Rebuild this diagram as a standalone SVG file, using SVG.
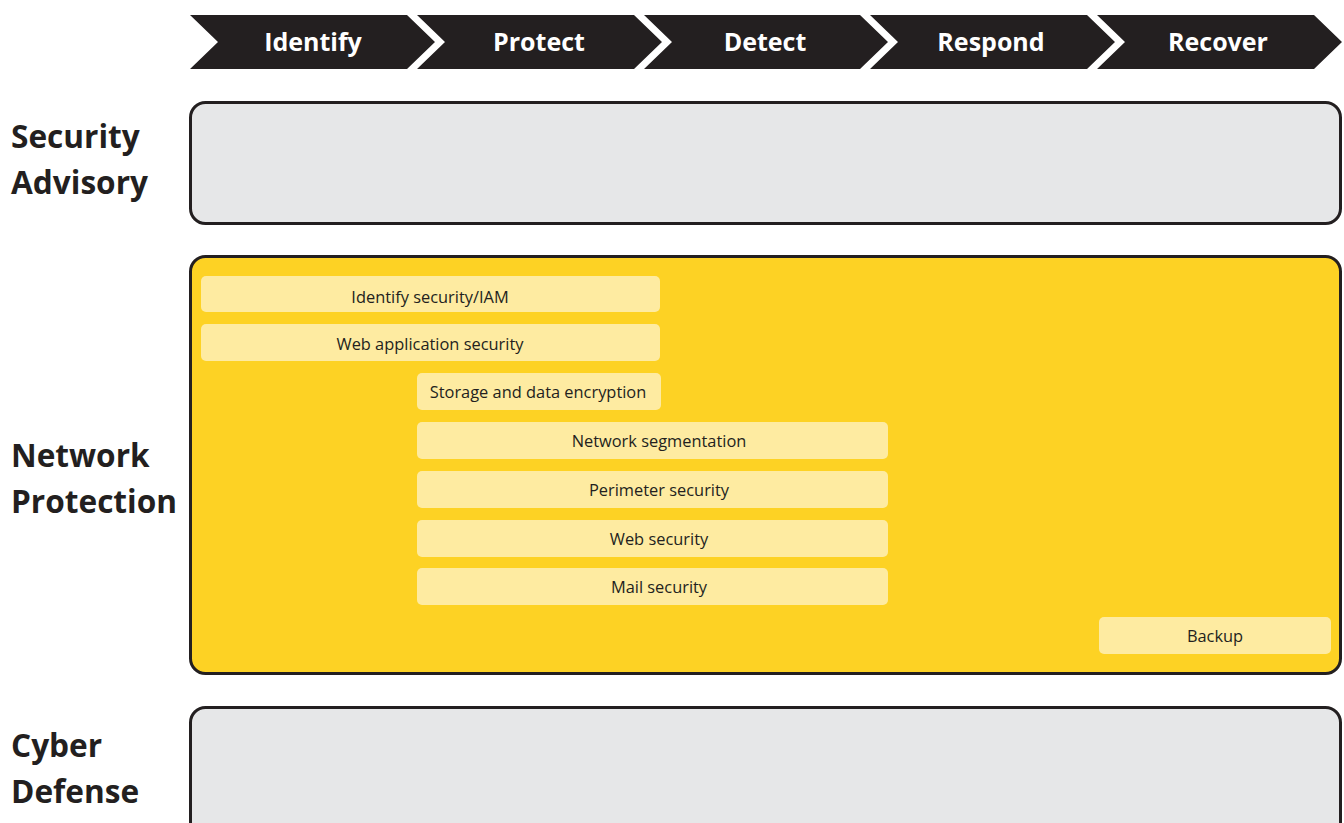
<svg xmlns="http://www.w3.org/2000/svg" width="1344" height="823" viewBox="0 0 1344 823">
<style>
.chev{fill:#231f20}
.ct{font-family:"Open Sans","Liberation Sans",sans-serif;font-weight:700;font-size:25px;fill:#ffffff;text-anchor:middle}
.lbl{font-family:"Open Sans","Liberation Sans",sans-serif;font-weight:700;font-size:31.6px;fill:#231f20}
.panel{stroke:#231f20;stroke-width:3}
.gray{fill:#e6e7e8}
.yel{fill:#fdd224}
.item{fill:#feeba1}
.it{font-family:"Open Sans","Liberation Sans",sans-serif;font-size:16.4px;fill:#231f20;text-anchor:middle}
</style>
<rect width="1344" height="823" fill="#ffffff"/>
<g id="phases">
<g id="phase-identify"><polygon class="chev" points="190,15 407,15 435,42 407,69 190,69 218,42"/><text class="ct" x="313" y="51">Identify</text></g>
<g id="phase-protect"><polygon class="chev" points="417,15 634,15 662,42 634,69 417,69 445,42"/><text class="ct" x="539" y="51">Protect</text></g>
<g id="phase-detect"><polygon class="chev" points="644,15 860,15 888,42 860,69 644,69 672,42"/><text class="ct" x="765" y="51">Detect</text></g>
<g id="phase-respond"><polygon class="chev" points="870,15 1087,15 1115,42 1087,69 870,69 898,42"/><text class="ct" x="991" y="51">Respond</text></g>
<g id="phase-recover"><polygon class="chev" points="1097,15 1314,15 1342,42 1314,69 1097,69 1125,42"/><text class="ct" x="1218" y="51">Recover</text></g>
</g>
<g id="security-advisory">
<text class="lbl" x="11" y="148">Security</text>
<text class="lbl" x="11" y="194">Advisory</text>
<rect class="panel gray" x="190.5" y="102.5" width="1150" height="121" rx="15"/>
</g>
<g id="network-protection">
<text class="lbl" x="11" y="467">Network</text>
<text class="lbl" x="11" y="513">Protection</text>
<rect class="panel yel" x="190.5" y="256.5" width="1150" height="417" rx="15"/>
</g>
<g id="item-iam"><rect class="item" x="201" y="276" width="459" height="36" rx="5"/><text class="it" x="430" y="303">Identify security/IAM</text></g>
<g id="item-webapp"><rect class="item" x="201" y="324" width="459" height="37" rx="5"/><text class="it" x="430" y="350">Web application security</text></g>
<g id="item-storage"><rect class="item" x="417" y="373" width="244" height="37" rx="5"/><text class="it" x="538" y="398">Storage and data encryption</text></g>
<g id="item-segmentation"><rect class="item" x="417" y="422" width="471" height="37" rx="5"/><text class="it" x="659" y="447">Network segmentation</text></g>
<g id="item-perimeter"><rect class="item" x="417" y="471" width="471" height="37" rx="5"/><text class="it" x="659" y="496">Perimeter security</text></g>
<g id="item-websec"><rect class="item" x="417" y="520" width="471" height="37" rx="5"/><text class="it" x="659" y="545">Web security</text></g>
<g id="item-mail"><rect class="item" x="417" y="568" width="471" height="37" rx="5"/><text class="it" x="659" y="593">Mail security</text></g>
<g id="item-backup"><rect class="item" x="1099" y="617" width="232" height="37" rx="5"/><text class="it" x="1215" y="642">Backup</text></g>
<g id="cyber-defense">
<text class="lbl" x="11" y="757">Cyber</text>
<text class="lbl" x="11" y="803">Defense</text>
<rect class="panel gray" x="190.5" y="707.5" width="1150" height="135" rx="15"/>
</g>
<g id="connectors"></g>
</svg>
